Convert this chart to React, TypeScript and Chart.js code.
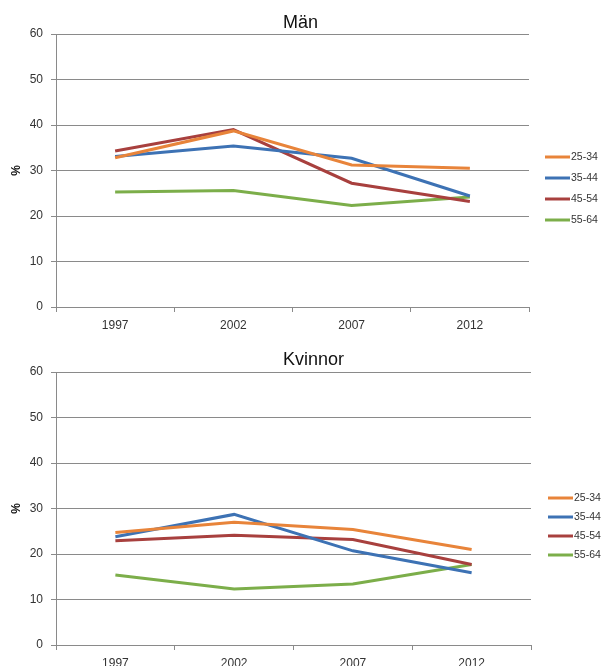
import React, { useEffect, useRef } from "react";
import { Chart, registerables } from "chart.js";

Chart.register(...registerables);

const years = ["1997", "2002", "2007", "2012"];
const ageGroups = ["25-34", "35-44", "45-54", "55-64"];
const seriesColors = ["#E8843A", "#3D72B4", "#A8403E", "#7CAE4A"];
const yTickValues = [0, 10, 20, 30, 40, 50, 60];
const yAxisTitle = "%";

const menTitle = "Män";
const men2534 = [32.8, 38.7, 31.2, 30.5];
const men3544 = [33.1, 35.4, 32.7, 24.4];
const men4554 = [34.3, 39.0, 27.2, 23.2];
const men5564 = [25.3, 25.6, 22.3, 24.2];

const womenTitle = "Kvinnor";
const women2534 = [24.7, 27.0, 25.4, 21.0];
const women3544 = [23.8, 28.7, 20.7, 15.9];
const women4554 = [22.9, 24.1, 23.2, 17.7];
const women5564 = [15.4, 12.3, 13.4, 17.7];

const FONT = "'Liberation Sans', Arial, sans-serif";
const GRID = "#8A8A8A";
const TEXT = "#333333";

type PanelProps = {
  title: string;
  series: number[][];
  width: number;
  height: number;
  padTop: number;
  padRight: number;
  xAxisHeight: number;
  titleX: number;
  titleBaseline: number;
  legendX: number;
  legendY: number;
  legendGap: number;
};

const overlayPlugin = {
  id: "overlay",
  afterDraw(chart: any, _args: any, opts: any) {
    const ctx = chart.ctx as CanvasRenderingContext2D;
    ctx.save();
    ctx.font = `18px ${FONT}`;
    ctx.fillStyle = "#111111";
    ctx.textAlign = "left";
    ctx.textBaseline = "alphabetic";
    ctx.fillText(opts.title, opts.titleX, opts.titleBaseline);
    chart.data.datasets.forEach((ds: any, i: number) => {
      const y = opts.legendY + i * opts.legendGap;
      ctx.strokeStyle = ds.borderColor;
      ctx.lineWidth = 3;
      ctx.beginPath();
      ctx.moveTo(opts.legendX, y);
      ctx.lineTo(opts.legendX + 25, y);
      ctx.stroke();
      ctx.font = `10.5px ${FONT}`;
      ctx.fillStyle = TEXT;
      ctx.textBaseline = "middle";
      ctx.fillText(ds.label, opts.legendX + 26, y + 0.5);
    });
    ctx.restore();
  },
};

function Panel(p: PanelProps) {
  const ref = useRef<HTMLCanvasElement | null>(null);
  useEffect(() => {
    if (!ref.current) return;
    const chart = new Chart(ref.current, {
      type: "line",
      data: {
        labels: years,
        datasets: ageGroups.map((g, i) => ({
          label: g,
          data: p.series[i],
          borderColor: seriesColors[i],
          backgroundColor: seriesColors[i],
          borderWidth: 3,
          pointRadius: 0,
          tension: 0,
          fill: false,
        })),
      },
      options: {
        animation: false,
        responsive: false,
        devicePixelRatio: 1,
        layout: { padding: { top: p.padTop, right: p.padRight, left: 0, bottom: 0 } },
        plugins: {
          legend: { display: false },
          title: { display: false },
          tooltip: { enabled: false },
          overlay: {
            title: p.title,
            titleX: p.titleX,
            titleBaseline: p.titleBaseline,
            legendX: p.legendX,
            legendY: p.legendY,
            legendGap: p.legendGap,
          },
        } as any,
        scales: {
          x: {
            type: "category",
            offset: true,
            afterFit: (s: any) => {
              s.height = p.xAxisHeight;
            },
            grid: {
              offset: true,
              drawOnChartArea: false,
              drawTicks: true,
              tickLength: 5,
              color: GRID,
              lineWidth: 1,
            },
            border: { color: GRID, width: 1 },
            ticks: { color: TEXT, font: { family: FONT, size: 12 }, padding: 6, maxRotation: 0 },
          },
          y: {
            min: 0,
            max: 60,
            afterFit: (s: any) => {
              s.width = 56;
            },
            afterBuildTicks: (s: any) => {
              s.ticks = yTickValues.map((v) => ({ value: v }));
            },
            grid: { color: GRID, lineWidth: 1, tickLength: 5, drawTicks: true },
            border: { color: GRID, width: 1 },
            ticks: { color: TEXT, font: { family: FONT, size: 12 }, padding: 8 },
            title: {
              display: true,
              text: yAxisTitle,
              color: "#111111",
              font: { family: FONT, size: 12, weight: "bold" },
              padding: { top: 9, bottom: 0 },
            },
          },
        },
      },
      plugins: [overlayPlugin as any],
    });
    return () => chart.destroy();
  }, []);
  return (
    <canvas
      ref={ref}
      width={p.width}
      height={p.height}
      style={{ display: "block", width: p.width, height: p.height }}
    />
  );
}

export default function App() {
  return (
    <div style={{ position: "absolute", left: 0, top: 0, width: 603, height: 666, background: "#fff", overflow: "hidden" }}>
      <Panel
        title={menTitle}
        series={[men2534, men3544, men4554, men5564]}
        width={603}
        height={336}
        padTop={34}
        padRight={74}
        xAxisHeight={29}
        titleX={283}
        titleBaseline={28}
        legendX={545}
        legendY={157}
        legendGap={21}
      />
      <Panel
        title={womenTitle}
        series={[women2534, women3544, women4554, women5564]}
        width={603}
        height={330}
        padTop={36}
        padRight={72}
        xAxisHeight={21}
        titleX={283}
        titleBaseline={29}
        legendX={548}
        legendY={162}
        legendGap={19}
      />
    </div>
  );
}
